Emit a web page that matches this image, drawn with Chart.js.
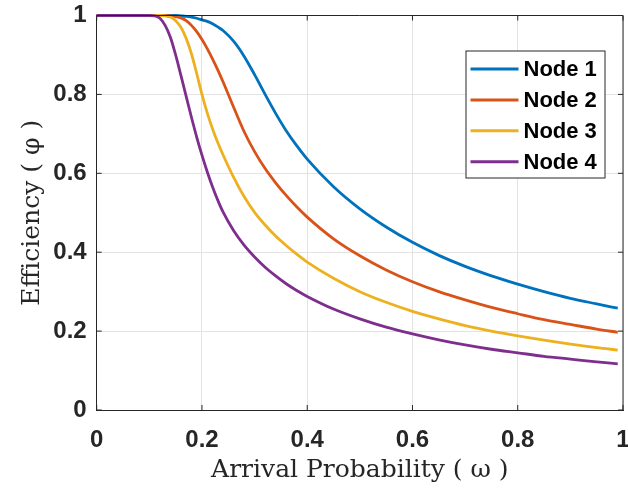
<!DOCTYPE html>
<html>
<head>
<meta charset="utf-8">
<title>Efficiency vs Arrival Probability</title>
<script src="https://cdn.jsdelivr.net/npm/chart.js@4.4.1/dist/chart.umd.min.js"></script>
<style>
    body { margin: 0; background: #fff; }
</style>
</head>
<body>
<canvas id="effGraph" width="628" height="488"></canvas>
<script>
// arrival probability (x) and efficiency of each node
const omega = [0, 0.05, 0.1, 0.11, 0.12, 0.13, 0.14, 0.15, 0.16, 0.17, 0.18, 0.19, 0.2, 0.21, 0.22, 0.23, 0.24,
    0.26, 0.28, 0.3, 0.32, 0.34, 0.36, 0.38, 0.4, 0.45, 0.5, 0.55, 0.6, 0.65, 0.7, 0.75, 0.8, 0.85, 0.9, 0.95, 0.99];
const node1 = [1, 1, 1, 1, 1, 1, 1, 1, 0.999, 0.998, 0.996, 0.993, 0.989, 0.985, 0.979, 0.971, 0.962,
    0.935, 0.897, 0.85, 0.8, 0.752, 0.708, 0.67, 0.636, 0.566, 0.51, 0.464, 0.425, 0.392, 0.364, 0.34, 0.319, 0.3, 0.283, 0.269, 0.258];
const node2 = [1, 1, 1, 1, 1, 1, 0.999, 0.997, 0.994, 0.987, 0.975, 0.959, 0.939, 0.916, 0.89, 0.862, 0.832,
    0.768, 0.706, 0.655, 0.612, 0.576, 0.544, 0.515, 0.489, 0.434, 0.391, 0.355, 0.325, 0.3, 0.279, 0.26, 0.244, 0.229, 0.217, 0.205, 0.197];
const node3 = [1, 1, 1, 1, 1, 0.999, 0.996, 0.987, 0.97, 0.942, 0.903, 0.853, 0.8, 0.753, 0.713, 0.678, 0.647,
    0.59, 0.541, 0.501, 0.469, 0.441, 0.417, 0.395, 0.375, 0.334, 0.3, 0.273, 0.25, 0.231, 0.214, 0.2, 0.188, 0.177, 0.167, 0.158, 0.152];
const node4 = [1, 1, 1, 0.999, 0.993, 0.975, 0.945, 0.9, 0.848, 0.795, 0.742, 0.692, 0.646, 0.604, 0.566, 0.532, 0.502,
    0.455, 0.418, 0.388, 0.362, 0.34, 0.32, 0.303, 0.288, 0.256, 0.231, 0.21, 0.193, 0.178, 0.165, 0.154, 0.145, 0.136, 0.129, 0.122, 0.117];

const seriesNames = ['Node 1', 'Node 2', 'Node 3', 'Node 4'];
const seriesColors = ['#0072BD', '#D95319', '#EDB120', '#7E2F8E'];

const xTicks = [0, 0.2, 0.4, 0.6, 0.8, 1];
const xTickLabels = ['0', '0.2', '0.4', '0.6', '0.8', '1'];
const yTicks = [0, 0.2, 0.4, 0.6, 0.8, 1];
const yTickLabels = ['0', '0.2', '0.4', '0.6', '0.8', '1'];

const axisColor = '#262626';
const gridColor = '#e3e3e3';
const tickFont = { family: 'Liberation Sans, Arial, sans-serif', size: 24, weight: 'bold' };
const titleFont = { family: 'DejaVu Serif, serif', size: 25, weight: 'normal' };

const toPoints = (ys) => ys.map((y, i) => ({ x: omega[i], y: y }));

// box around the plot + inward tick marks on all four sides
const axesBox = {
    id: 'axesBox',
    afterDatasetsDraw(chart) {
        const { ctx, chartArea: a, scales } = chart;
        const len = 5;
        ctx.save();
        ctx.strokeStyle = axisColor;
        ctx.lineWidth = 1;
        ctx.beginPath();
        ctx.moveTo(a.left, a.top);
        ctx.lineTo(a.right, a.top);
        ctx.lineTo(a.right, a.bottom);
        xTicks.forEach((v) => {
            const px = scales.x.getPixelForValue(v);
            ctx.moveTo(px, a.bottom); ctx.lineTo(px, a.bottom - len);
            ctx.moveTo(px, a.top); ctx.lineTo(px, a.top + len);
        });
        yTicks.forEach((v) => {
            const py = scales.y.getPixelForValue(v);
            ctx.moveTo(a.left, py); ctx.lineTo(a.left + len, py);
            ctx.moveTo(a.right, py); ctx.lineTo(a.right - len, py);
        });
        ctx.stroke();
        ctx.restore();
    }
};

// legend box drawn inside the plot, upper right
const nodeLegend = {
    id: 'nodeLegend',
    afterDraw(chart) {
        const { ctx, chartArea: a } = chart;
        const bx = a.right - 157.5;
        const by = a.top + 35;
        const bw = 140, bh = 128;
        ctx.save();
        ctx.fillStyle = '#fff';
        ctx.fillRect(bx, by, bw, bh);
        ctx.strokeStyle = axisColor;
        ctx.lineWidth = 1;
        ctx.strokeRect(bx + 0.5, by + 0.5, bw - 1, bh - 1);
        ctx.font = 'bold 22px "Liberation Sans", Arial, sans-serif';
        ctx.textBaseline = 'middle';
        ctx.textAlign = 'left';
        chart.data.datasets.forEach((ds, i) => {
            const cy = by + 18.5 + i * 30.9;
            ctx.strokeStyle = ds.borderColor;
            ctx.lineWidth = 3;
            ctx.beginPath();
            ctx.moveTo(bx + 5, cy);
            ctx.lineTo(bx + 53, cy);
            ctx.stroke();
            ctx.fillStyle = '#000';
            ctx.fillText(ds.label, bx + 58, cy + 1);
        });
        ctx.restore();
    }
};

const ctx1 = document.getElementById('effGraph');

new Chart(ctx1, {
    type: 'line',
    data: {
        datasets: [node1, node2, node3, node4].map((ys, i) => ({
            label: seriesNames[i],
            data: toPoints(ys),
            borderColor: seriesColors[i],
            backgroundColor: seriesColors[i],
            borderWidth: 2.8,
            pointRadius: 0,
            cubicInterpolationMode: 'monotone',
            fill: false,
            clip: 5,
            order: 4 - i
        }))
    },
    options: {
        responsive: false,
        animation: false,
        events: [],
        layout: { padding: { top: 15.5, right: 5, left: 0, bottom: 0 } },
        plugins: {
            legend: { display: false },
            tooltip: { enabled: false }
        },
        scales: {
            x: {
                type: 'linear',
                min: 0,
                max: 1,
                afterBuildTicks: (scale) => { scale.ticks = xTicks.map((v) => ({ value: v })); },
                afterFit: (scale) => {
                    scale.height = 78;
                    scale.paddingLeft = 0;
                    scale.paddingRight = 0;
                },
                ticks: {
                    callback: (v, i) => xTickLabels[i],
                    font: tickFont,
                    color: axisColor,
                    padding: 16,
                    maxRotation: 0,
                    autoSkip: false
                },
                grid: { color: gridColor, drawTicks: false },
                border: { color: axisColor, width: 1 },
                title: {
                    display: true,
                    text: 'Arrival Probability ( ω )',
                    font: titleFont,
                    color: axisColor,
                    padding: { top: 0, bottom: 3 }
                }
            },
            y: {
                type: 'linear',
                min: 0,
                max: 1,
                afterBuildTicks: (scale) => { scale.ticks = yTicks.map((v) => ({ value: v })); },
                afterFit: (scale) => {
                    scale.width = 96.7;
                    scale.paddingTop = 0;
                    scale.paddingBottom = 0;
                },
                ticks: {
                    callback: (v, i) => yTickLabels[i],
                    font: tickFont,
                    color: axisColor,
                    padding: 10,
                    autoSkip: false
                },
                grid: { color: gridColor, drawTicks: false },
                border: { color: axisColor, width: 1 },
                title: {
                    display: true,
                    text: 'Efficiency ( φ )',
                    font: titleFont,
                    color: axisColor,
                    padding: { top: 17, bottom: 0 }
                }
            }
        }
    },
    plugins: [axesBox, nodeLegend]
});
</script>
</body>
</html>
